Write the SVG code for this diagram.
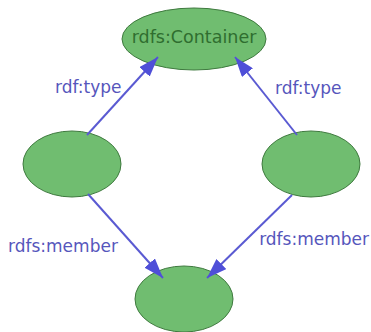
<svg xmlns="http://www.w3.org/2000/svg" width="371" height="332" viewBox="0 0 371 332">
<style>
.node{fill:#70bd70;stroke:#3f7a3f;stroke-width:1}
.ntext{font-family:"DejaVu Sans",sans-serif;font-size:17.5px;fill:#2f6e2f;text-anchor:middle}
.edge{stroke:#5a5ad2;stroke-width:2;fill:none}
.lbl{font-family:"DejaVu Sans",sans-serif;font-size:17px;fill:#5656bc}
</style>
<defs>
<marker id="arr" viewBox="0 0 20 14" refX="20" refY="7" markerWidth="20" markerHeight="14" markerUnits="userSpaceOnUse" orient="auto">
<path d="M0,0 L20,7 L0,14 Z" fill="#4f4fd8"/>
</marker>
</defs>
<rect width="371" height="332" fill="#ffffff"/>
<g id="container"><ellipse class="node" cx="194" cy="39" rx="72" ry="31"/><text class="ntext" x="194" y="43">rdfs:Container</text></g>
<g id="left"><ellipse class="node" cx="72" cy="164" rx="49" ry="33"/></g>
<g id="right"><ellipse class="node" cx="311" cy="164" rx="49" ry="33"/></g>
<g id="bottom"><ellipse class="node" cx="184" cy="299" rx="49" ry="33"/></g>
<g id="edges">
<line class="edge" x1="87" y1="135" x2="158" y2="57" marker-end="url(#arr)"/>
<line class="edge" x1="297" y1="135" x2="235" y2="57" marker-end="url(#arr)"/>
<line class="edge" x1="88" y1="194" x2="163" y2="278" marker-end="url(#arr)"/>
<line class="edge" x1="292" y1="195" x2="207" y2="278" marker-end="url(#arr)"/>
<text class="lbl" x="55" y="93">rdf:type</text>
<text class="lbl" x="275" y="94">rdf:type</text>
<text class="lbl" x="8" y="252">rdfs:member</text>
<text class="lbl" x="369" y="245" text-anchor="end">rdfs:member</text>
</g>
</svg>
